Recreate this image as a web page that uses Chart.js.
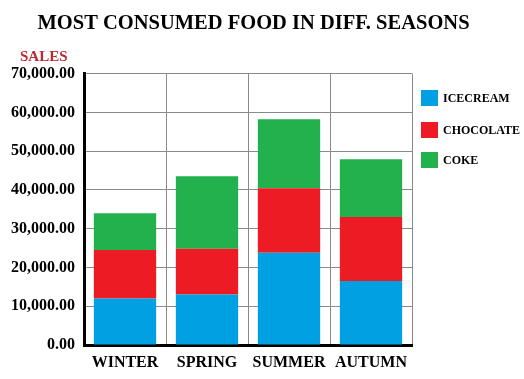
<!DOCTYPE html>
<html>
<head>
<meta charset="utf-8">
<script src="https://cdn.jsdelivr.net/npm/chart.js@4.4.1/dist/chart.umd.min.js"></script>
<style>
  html, body { margin: 0; padding: 0; background: #fff; }
  #wrap { width: 524px; height: 379px; }
</style>
</head>
<body>
<div id="wrap"><canvas id="myChart"></canvas></div>
<script>
const seasons = ['WINTER', 'SPRING', 'SUMMER', 'AUTUMN'];
const icecream = [12000, 13000, 23800, 16500];
const chocolate = [12500, 11800, 16600, 16500];
const coke = [9500, 18700, 17800, 14900];
const yTicks = [0, 10000, 20000, 30000, 40000, 50000, 60000, 70000];

const serif = '"Liberation Serif", "Times New Roman", serif';

// legend + "SALES" label drawn on top of the chart
const extras = {
    id: 'extras',
    afterDraw(chart) {
        const ctx = chart.ctx;
        ctx.save();
        ctx.font = 'bold 15px ' + serif;
        ctx.fillStyle = '#c1272d';
        ctx.textBaseline = 'middle';
        ctx.textAlign = 'left';
        ctx.fillText('SALES', 20, 57);

        const tops = [90, 122, 152];
        ctx.font = 'bold 12px ' + serif;
        chart.data.datasets.forEach((ds, i) => {
            ctx.fillStyle = ds.backgroundColor;
            ctx.fillRect(421, tops[i], 17, 16);
            ctx.fillStyle = '#000';
            ctx.fillText(ds.label, 443, tops[i] + 9);
        });
        ctx.restore();
    }
};

new Chart(document.getElementById('myChart'), {
    type: 'bar',
    data: {
        labels: seasons,
        datasets: [
            { label: 'ICECREAM', data: icecream, backgroundColor: '#00a0e3' },
            { label: 'CHOCOLATE', data: chocolate, backgroundColor: '#ed1c24' },
            { label: 'COKE', data: coke, backgroundColor: '#22b14c' }
        ]
    },
    options: {
        responsive: true,
        maintainAspectRatio: false,
        animation: false,
        layout: { padding: { left: 0, right: 17, top: 0, bottom: 0 } },
        datasets: { bar: { categoryPercentage: 1, barPercentage: 0.76 } },
        plugins: {
            legend: { display: false },
            tooltip: { enabled: false },
            title: {
                display: true,
                text: 'MOST CONSUMED FOOD IN DIFF. SEASONS',
                color: '#000',
                font: { family: serif, size: 20.5, weight: 'bold', lineHeight: 1.2 },
                padding: { top: 11, bottom: 38 }
            }
        },
        scales: {
            x: {
                stacked: true,
                grid: { color: '#8a8a8a', lineWidth: 1, drawTicks: false },
                border: { color: '#000', width: 3 },
                ticks: {
                    color: '#000',
                    padding: 8,
                    font: { family: serif, size: 16, weight: 'bold' }
                },
                afterFit(s) { s.height = 34; }
            },
            y: {
                stacked: true,
                min: 0,
                max: 70000,
                grid: { color: '#8a8a8a', lineWidth: 1, drawTicks: false },
                border: { color: '#000', width: 3 },
                afterBuildTicks(s) { s.ticks = yTicks.map(v => ({ value: v })); },
                ticks: {
                    color: '#000',
                    padding: 9,
                    font: { family: serif, size: 16, weight: 'bold' },
                    callback: v => v.toLocaleString('en-US', { minimumFractionDigits: 2, maximumFractionDigits: 2 })
                },
                afterFit(s) { s.width = 84; }
            },
            side: {
                position: 'right',
                display: true,
                grid: { display: false, drawTicks: false },
                border: { display: false },
                ticks: { display: false },
                afterFit(s) { s.width = 95; }
            }
        }
    },
    plugins: [extras]
});
</script>
</body>
</html>
